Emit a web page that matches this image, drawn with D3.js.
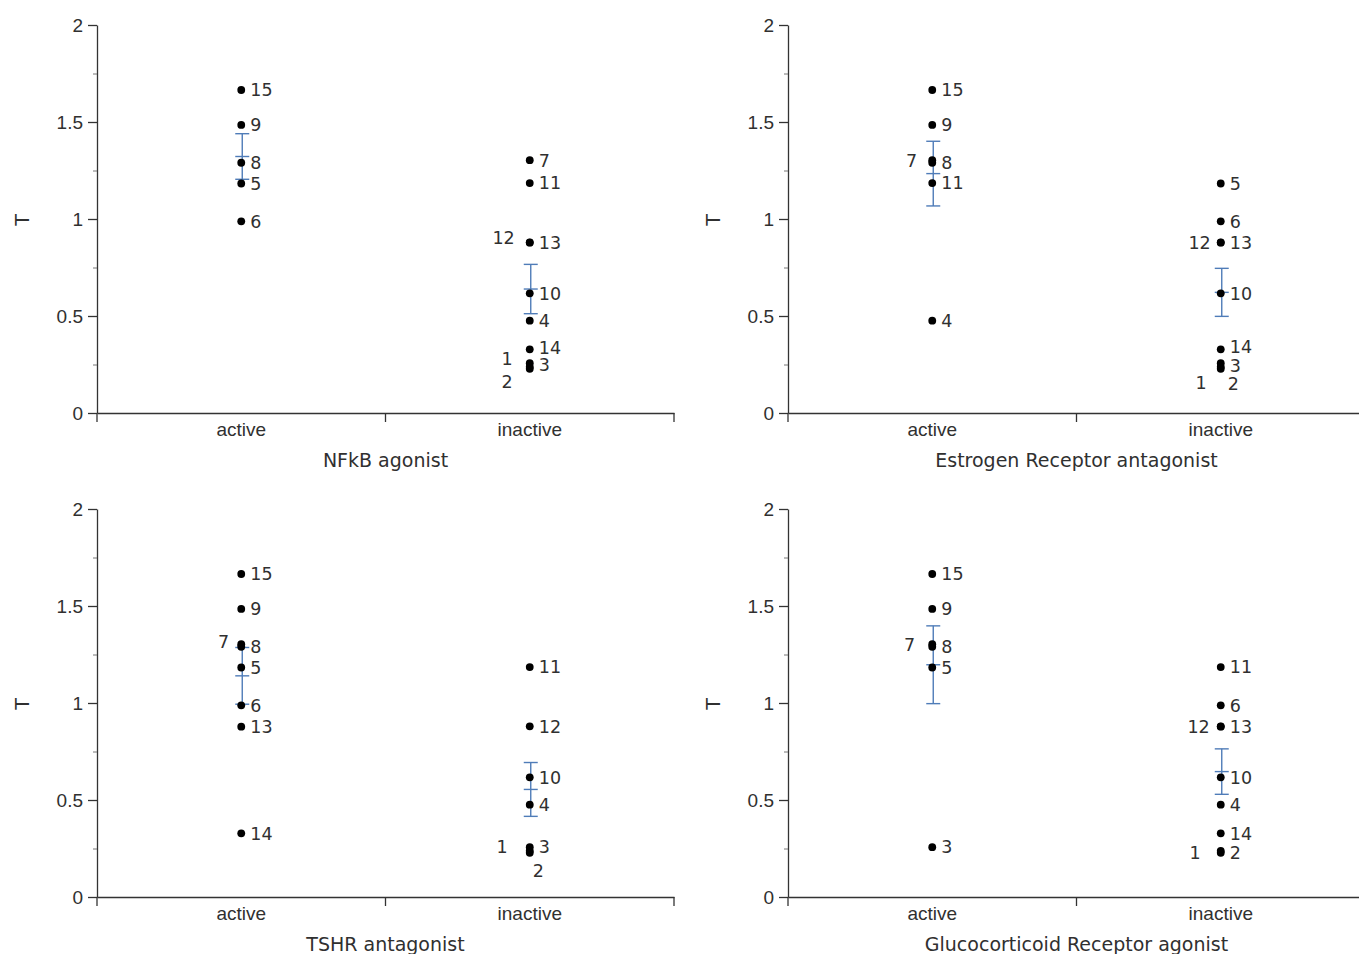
<!DOCTYPE html>
<html>
<head>
<meta charset="utf-8">
<script src="https://cdn.jsdelivr.net/npm/d3@7"></script>
<style>
  html, body { margin: 0; padding: 0; background: #ffffff; }
  svg { display: block; font-family: "DejaVu Sans", Verdana, sans-serif; }
</style>
</head>
<body>
<svg id="chart" width="1359" height="954"></svg>
<script>
// ---------------- data ----------------
const compoundIds = [1, 2, 3, 4, 5, 6, 7, 8, 9, 10, 11, 12, 13, 14, 15];
const tValues     = [0.238, 0.228, 0.257, 0.476, 1.183, 0.988, 1.303, 1.290, 1.485, 0.617, 1.185, 0.880, 0.878, 0.328, 1.665];

const categories = ["active", "inactive"];
const panelTitles = ["NFkB agonist", "Estrogen Receptor antagonist", "TSHR antagonist", "Glucocorticoid Receptor agonist"];

// compounds classified "active" in each assay (all others are "inactive")
const nfkbActive = [5, 6, 8, 9, 15];
const erActive   = [4, 7, 8, 9, 11, 15];
const tshrActive = [5, 6, 7, 8, 9, 13, 14, 15];
const grActive   = [3, 5, 7, 8, 9, 15];

const yTicks      = [0, 0.5, 1, 1.5, 2];
const yMinorTicks = [0.25, 0.75, 1.25, 1.75];
const yLabel = "T";

// ---------------- layout / label placement (not data) ----------------
const panelBoxes = [
  {x0: 97,  y0: 25,  w: 577, h: 388},
  {x0: 788, y0: 25,  w: 577, h: 388},
  {x0: 97,  y0: 509, w: 577, h: 388},
  {x0: 788, y0: 509, w: 577, h: 388}
];
// per panel: id -> [anchor, dx, dy] ; default is right of the dot
const labelOverrides = [
  {12: ["end", -15, -5], 1: ["end", -17, -8], 2: ["end", -17, 13], 14: ["start", 9, -2], 3: ["start", 9, 2]},
  {7: ["end", -15, 0], 12: ["end", -10, 0], 1: ["end", -14, 16], 2: ["start", 7, 15], 14: ["start", 9, -3], 3: ["start", 9, 3]},
  {7: ["end", -12, -3], 1: ["end", -22, -4], 2: ["start", 3, 18]},
  {7: ["end", -17, 0], 12: ["end", -11, 0], 1: ["end", -20, 2]}
];

const activeLists = [nfkbActive, erActive, tshrActive, grActive];
const axisColor = "#333333";
const textColor = "#303030";
const errColor = "#4f7cb8";
const axisFont = "19px";
const labelFont = "17.5px";

const svg = d3.select("#chart");

panelBoxes.forEach((box, pi) => {
  const g = svg.append("g");
  const y = d3.scaleLinear().domain([0, 2]).range([box.y0 + box.h, box.y0]);
  const x = d3.scaleBand().domain(categories).range([box.x0, box.x0 + box.w]).padding(0);
  const cx = c => x(c) + x.bandwidth() / 2;

  const points = compoundIds.map((id, i) => ({
    id, t: tValues[i],
    cat: activeLists[pi].includes(id) ? "active" : "inactive"
  }));

  // y axis (major)
  const yAxis = g.append("g")
    .attr("transform", `translate(${box.x0},0)`)
    .call(d3.axisLeft(y).tickValues(yTicks).tickSize(9).tickSizeOuter(0).tickPadding(5)
      .tickFormat(d => String(d)));
  yAxis.selectAll("path,line").attr("stroke", axisColor).attr("stroke-width", 1.3);
  yAxis.selectAll("text").attr("fill", textColor).style("font-size", axisFont);

  // y axis minor ticks
  const yMinor = g.append("g")
    .attr("transform", `translate(${box.x0},0)`)
    .call(d3.axisLeft(y).tickValues(yMinorTicks).tickSize(4).tickFormat(""));
  yMinor.select(".domain").remove();
  yMinor.selectAll("line").attr("stroke", "#777").attr("stroke-width", 1);

  // x axis
  const xAxis = g.append("g")
    .attr("transform", `translate(0,${box.y0 + box.h})`)
    .call(d3.axisBottom(x).tickSize(0).tickSizeOuter(0).tickPadding(10));
  xAxis.select(".domain").attr("stroke", axisColor).attr("stroke-width", 1.3);
  xAxis.selectAll("text").attr("fill", textColor).style("font-size", axisFont);
  // category boundary ticks
  const bounds = categories.map(c => x(c)).concat([x.range()[1]]);
  g.append("g").selectAll("line").data(bounds).join("line")
    .attr("x1", d => d).attr("x2", d => d)
    .attr("y1", box.y0 + box.h).attr("y2", box.y0 + box.h + 9)
    .attr("stroke", axisColor).attr("stroke-width", 1.3);

  // axis titles
  g.append("text")
    .attr("x", (box.x0 + box.x0 + box.w) / 2)
    .attr("y", box.y0 + box.h + 54)
    .attr("text-anchor", "middle")
    .attr("fill", textColor)
    .style("font-size", axisFont)
    .text(panelTitles[pi]);
  g.append("text")
    .attr("transform", `translate(${box.x0 - 75},${(box.y0 + box.y0 + box.h) / 2 + 1}) rotate(-90)`)
    .attr("text-anchor", "middle")
    .attr("dy", "0.35em")
    .attr("fill", textColor)
    .style("font-size", axisFont)
    .text(yLabel);

  // error bars: mean +/- standard error
  categories.forEach(c => {
    const vals = points.filter(p => p.cat === c).map(p => p.t);
    const m = d3.mean(vals);
    const se = d3.deviation(vals) / Math.sqrt(vals.length);
    const xc = cx(c) + 1;
    const eg = g.append("g").attr("stroke", errColor).attr("stroke-width", 1.4);
    eg.append("line").attr("x1", xc).attr("x2", xc).attr("y1", y(m - se)).attr("y2", y(m + se));
    [m - se, m, m + se].forEach(v => {
      eg.append("line").attr("x1", xc - 7).attr("x2", xc + 7).attr("y1", y(v)).attr("y2", y(v));
    });
  });

  // dots
  g.append("g").selectAll("circle").data(points).join("circle")
    .attr("cx", d => cx(d.cat))
    .attr("cy", d => y(d.t))
    .attr("r", 3.9)
    .attr("fill", "#000");

  // point labels
  g.append("g").selectAll("text").data(points).join("text")
    .each(function(d) {
      const o = labelOverrides[pi][d.id] || ["start", 9, 0];
      d3.select(this)
        .attr("x", cx(d.cat) + o[1])
        .attr("y", y(d.t) + o[2])
        .attr("text-anchor", o[0]);
    })
    .attr("dy", "0.36em")
    .attr("fill", textColor)
    .style("font-size", labelFont)
    .text(d => d.id);
});
</script>
</body>
</html>
